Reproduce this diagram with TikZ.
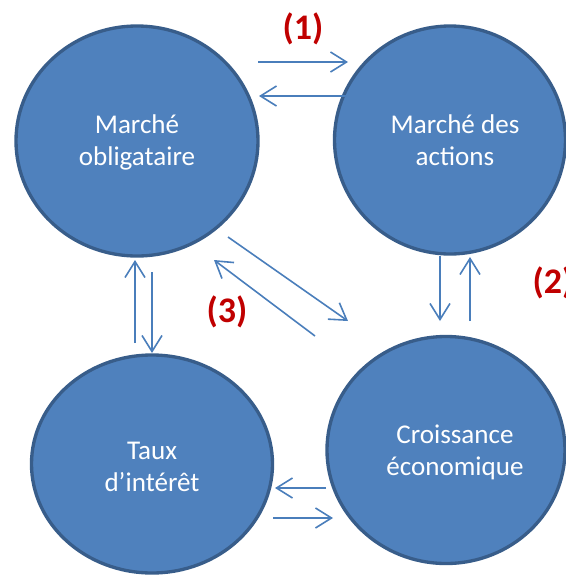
\documentclass[tikz,border=0pt]{standalone}
\usepackage{fontspec}
\setmainfont{Carlito}
\usetikzlibrary{arrows.meta,shapes.geometric}
\definecolor{shapefill}{HTML}{4F81BD}
\definecolor{shapeline}{HTML}{385D8A}
\definecolor{arrowblue}{HTML}{4A7EBB}
\definecolor{labelred}{HTML}{C00000}
\tikzset{
  bubble/.style={ellipse, fill=shapefill, draw=shapeline, line width=2.5pt, inner sep=0pt},
  bubbletext/.style={text=white, align=center, font=\fontsize{20.3}{24}\selectfont},
  link/.style={draw=arrowblue, line width=1.2pt, -{Straight Barb[length=12pt,width=15pt,line width=1.2pt]}},
  numlabel/.style={text=labelred, font=\fontsize{27}{32}\selectfont\bfseries}
}
\begin{document}
\begin{tikzpicture}[x=0.75pt,y=-0.75pt]
\useasboundingbox (0,0) rectangle (566,576);
% circles
\node[bubble, minimum width=242*0.75pt, minimum height=230*0.75pt] (mo) at (137,141) {};
\node[bubble, minimum width=231*0.75pt, minimum height=228*0.75pt] (ma) at (450,140) {};
\node[bubble, minimum width=238*0.75pt, minimum height=227*0.75pt] (ce) at (446,450) {};
\node[bubble, minimum width=241*0.75pt, minimum height=218*0.75pt] (ti) at (152,464) {};
% texts
\node[bubbletext] (tmo) at (137,142) {Marché\\obligataire};
\node[bubbletext] (tma) at (455,140) {Marché des\\actions};
\node[bubbletext] (tce) at (455,452) {Croissance\\économique};
\node[bubbletext] (tti) at (152,467) {Taux\\d’intérêt};
% labels
\node[numlabel] (l1) at (303,29) {(1)};
\node[numlabel] (l2) at (553,283) {(2)};
\node[numlabel] (l3) at (227,312) {(3)};
% arrow end points
\coordinate (a1s) at (258,62);  \coordinate (a1e) at (348,62);
\coordinate (a2s) at (346,96);  \coordinate (a2e) at (259,96);
\coordinate (a3s) at (440,256); \coordinate (a3e) at (440,321);
\coordinate (a4s) at (470,321); \coordinate (a4e) at (470,257);
\coordinate (a5s) at (228,237); \coordinate (a5e) at (348,321);
\coordinate (a6s) at (315,336); \coordinate (a6e) at (214,260);
\coordinate (a7s) at (135,343); \coordinate (a7e) at (135,260);
\coordinate (a8s) at (152,272); \coordinate (a8e) at (152,353);
\coordinate (a9s) at (326,488); \coordinate (a9e) at (275,488);
\coordinate (a10s) at (273,518); \coordinate (a10e) at (333,518);
\foreach \i in {1,...,10} { \draw[link] (a\i s) -- (a\i e); }
\end{tikzpicture}
\end{document}
